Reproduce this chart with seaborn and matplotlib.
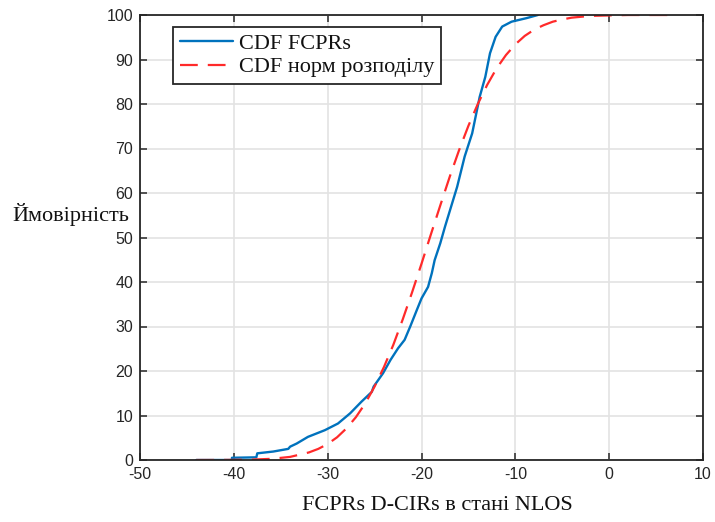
import matplotlib
matplotlib.use("Agg")
import matplotlib.pyplot as plt
import seaborn as sns
import pandas as pd

fcpr_x = [-44.0, -40.2, -40.2, -37.6, -37.5, -35.8, -34.2, -34.0, -33.3, -32.1,
          -30.3, -28.9, -27.6, -26.4, -25.3, -25.1, -24.1, -23.3, -22.5, -21.8,
          -21.2, -20.5, -20.0, -19.3, -18.9, -18.6, -18.0, -17.5, -16.2, -15.4,
          -14.6, -13.8, -13.2, -12.7, -12.1, -11.4, -10.4, -8.8, -7.6]
fcpr_y = [0.0, 0.0, 0.5, 0.6, 1.5, 1.9, 2.5, 3.0, 3.7, 5.2,
          6.7, 8.2, 10.5, 13.1, 15.3, 16.5, 19.5, 22.5, 25.1, 27.0,
          30.0, 33.7, 36.3, 38.9, 42.0, 44.9, 48.7, 52.4, 61.4, 68.2,
          73.4, 81.6, 86.1, 91.4, 95.1, 97.4, 98.5, 99.3, 100.0]

# Normal-distribution CDF curve
norm_x = [-44, -42, -40, -38, -36, -34, -32, -31, -30, -29, -28, -27, -26, -25,
          -24, -23, -22, -21, -20, -19, -18, -17, -16, -15, -14, -13, -12, -11,
          -10, -9, -8, -7, -6, -5, -4, -2, 0, 2, 4, 6.5]
norm_y = [0.0, 0.01, 0.03, 0.1, 0.26, 0.7, 1.7, 2.5, 3.6, 5.1, 7.1, 9.6, 12.7, 16.5,
          20.9, 25.9, 31.6, 37.7, 44.1, 50.7, 57.2, 63.6, 69.6, 75.1, 80.0, 84.3, 88.0, 91.0,
          93.4, 95.3, 96.7, 97.7, 98.5, 99.0, 99.4, 99.8, 99.9, 100.0, 100.0, 100.0]

x_ticks = [-50, -40, -30, -20, -10, 0, 10]
y_ticks = [0, 10, 20, 30, 40, 50, 60, 70, 80, 90, 100]

legend_labels = ["CDF FCPRs", "CDF норм розподілу"]
x_label = "FCPRs D-CIRs в стані NLOS"
y_label = "Ймовірність"

sns.set_theme(style="white")
plt.rcParams['font.family'] = ['Liberation Sans', 'DejaVu Sans']

fig = plt.figure(figsize=(7.15, 5.22), dpi=100)
ax = fig.add_axes([140/715, 1 - 460/522, 563/715, 445/522])

df1 = pd.DataFrame({"x": fcpr_x, "y": fcpr_y})
df2 = pd.DataFrame({"x": norm_x, "y": norm_y})

sns.lineplot(data=df1, x="x", y="y", ax=ax, color="#0072BD", linewidth=1.7,
             sort=False, estimator=None, label=legend_labels[0])
sns.lineplot(data=df2, x="x", y="y", ax=ax, color="#ff2a2a", linewidth=1.6,
             sort=False, estimator=None, label=legend_labels[1],
             dashes=False)
ax.lines[1].set_linestyle((0, (8, 4.5)))

ax.set_xlim(-50, 10)
ax.set_ylim(0, 100)
ax.set_xticks(x_ticks)
ax.set_yticks(y_ticks)
ax.set_xticklabels([str(t) for t in x_ticks], fontsize=11.5, color="#262626")
ax.set_yticklabels([str(t) for t in y_ticks], fontsize=11.5, color="#262626")

ax.grid(True, color="#e3e3e3", linewidth=1.2)
ax.set_axisbelow(True)
for s in ax.spines.values():
    s.set_color("#262626")
    s.set_linewidth(1.3)
    s.set_visible(True)
ax.tick_params(direction="in", length=5, width=1.1, color="#262626",
               top=True, right=True, bottom=True, left=True, pad=5)

serif = ['Liberation Serif', 'DejaVu Serif']
ax.set_xlabel(x_label, fontsize=16, family=serif, color="#111111")
ax.xaxis.set_label_coords((437 - 140) / 563, -(506 - 460) / 445)
ax.xaxis.label.set_va("center")
ax.set_ylabel(y_label, fontsize=16, family=serif, color="#111111", rotation=0,
              ha="right", va="center")
ax.yaxis.set_label_coords((129 - 140) / 563, (460 - 215) / 445)

leg = ax.legend(loc="upper left", bbox_to_anchor=((173 - 140) / 563, (460 - 27) / 445),
                prop={'family': serif, 'size': 16}, frameon=True, fancybox=False,
                borderaxespad=0, handlelength=2.4, handletextpad=0.25,
                borderpad=0.3, labelspacing=0.12)
leg.get_frame().set_edgecolor("#262626")
leg.get_frame().set_linewidth(1.3)
leg.get_frame().set_facecolor("white")
leg.get_frame().set_alpha(1)
for t in leg.get_texts():
    t.set_color("#111111")

fig.savefig("out.png", dpi=100)
